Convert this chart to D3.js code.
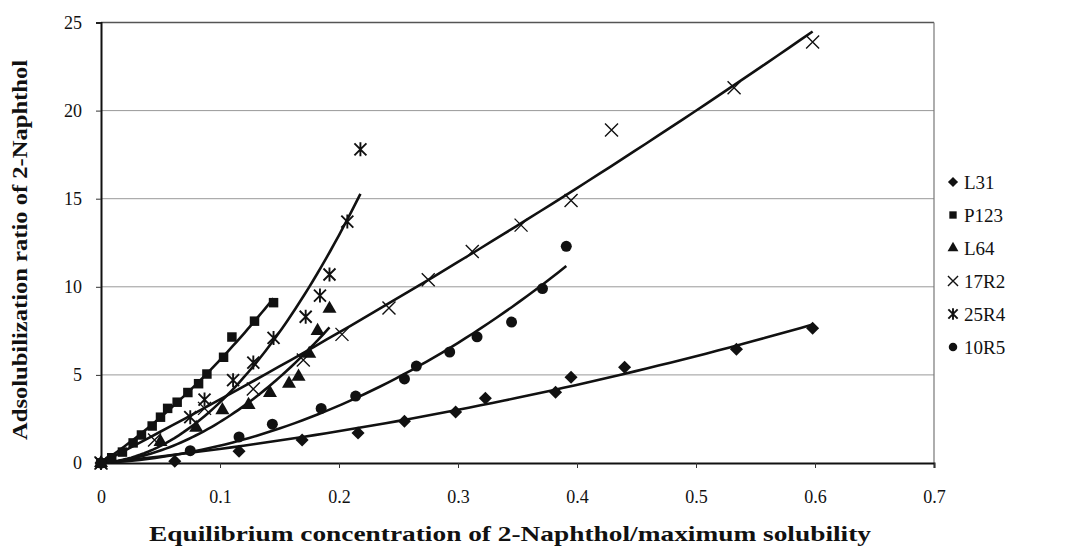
<!DOCTYPE html>
<html><head><meta charset="utf-8">
<script src="https://cdn.jsdelivr.net/npm/d3@7"></script>
<style>
html,body{margin:0;padding:0;background:#fff;}
svg{display:block;}
text{font-family:"Liberation Serif","DejaVu Serif Condensed",serif;fill:#111;}
</style></head>
<body><svg id="chart" width="1065" height="556"></svg>
<script>
const seriesNames = ["L31","P123","L64","17R2","25R4","10R5"];
const L31 = [[0,0],[0.062,0.1],[0.116,0.67],[0.169,1.3],[0.216,1.7],[0.255,2.37],[0.298,2.9],[0.323,3.68],[0.382,4.02],[0.395,4.87],[0.44,5.44],[0.534,6.46],[0.598,7.65]];
const P123 = [[0,0],[0.009,0.3],[0.018,0.62],[0.027,1.14],[0.034,1.59],[0.043,2.1],[0.05,2.6],[0.056,3.1],[0.064,3.45],[0.073,4.0],[0.082,4.5],[0.089,5.05],[0.103,6.0],[0.11,7.15],[0.129,8.05],[0.145,9.1]];
const L64 = [[0,0],[0.05,1.2],[0.08,2.0],[0.102,3.0],[0.124,3.3],[0.142,3.98],[0.158,4.5],[0.166,4.9],[0.175,6.2],[0.182,7.5],[0.192,8.75]];
const R17R2 = [[0,0],[0.045,1.3],[0.087,3.1],[0.128,4.2],[0.17,5.85],[0.2025,7.3],[0.242,8.8],[0.275,10.4],[0.312,12.0],[0.353,13.5],[0.395,14.9],[0.429,18.9],[0.532,21.3],[0.598,23.9]];
const R25R4 = [[0,0],[0.075,2.6],[0.087,3.6],[0.111,4.7],[0.128,5.7],[0.145,7.1],[0.172,8.3],[0.184,9.5],[0.192,10.7],[0.207,13.7],[0.218,17.8]];
const R10R5 = [[0,0],[0.075,0.7],[0.116,1.48],[0.144,2.2],[0.185,3.1],[0.214,3.8],[0.255,4.77],[0.265,5.5],[0.293,6.3],[0.316,7.16],[0.345,8.0],[0.371,9.9],[0.391,12.3]];
const xTicks = [0,0.1,0.2,0.3,0.4,0.5,0.6,0.7];
const yTicks = [0,5,10,15,20,25];
const xTitle = "Equilibrium concentration of 2-Naphthol/maximum solubility";
const yTitle = "Adsolubilization ratio of 2-Naphthol";

const allSeries = [L31,P123,L64,R17R2,R25R4,R10R5];
const markers = ["diamond","square","triangle","cross","asterisk","circle"];

const svg = d3.select("#chart");
const x = d3.scaleLinear().domain([0,0.7]).range([101,934]);
const y = d3.scaleLinear().domain([0,25]).range([463,22.5]);

// gridlines
svg.append("g").selectAll("line").data(yTicks.filter(v=>v>0)).join("line")
  .attr("x1",x(0)).attr("x2",x(0.7)).attr("y1",d=>y(d)).attr("y2",d=>y(d))
  .attr("stroke",d=>d===25?"#555":"#999").attr("stroke-width",d=>d===25?1.5:1);
svg.append("line").attr("x1",x(0.7)).attr("x2",x(0.7)).attr("y1",y(0)).attr("y2",y(25))
  .attr("stroke","#777").attr("stroke-width",1.2);

// axes
const xAxis = svg.append("g").attr("transform",`translate(0,${y(0)})`)
  .call(d3.axisBottom(x).tickValues(xTicks).tickFormat(d=>d===0?"0":d3.format(".1f")(d)).tickSize(5).tickPadding(22));
xAxis.select(".domain").attr("stroke","#111").attr("stroke-width",2);
xAxis.selectAll(".tick line").attr("stroke","#333");
xAxis.selectAll("text").attr("font-size",18).attr("fill","#111");

const yAxis = svg.append("g").attr("transform",`translate(${x(0)},0)`)
  .call(d3.axisLeft(y).tickValues(yTicks).tickSize(5).tickPadding(14));
yAxis.select(".domain").attr("stroke","#111").attr("stroke-width",2);
yAxis.selectAll(".tick line").attr("stroke","#333");
yAxis.selectAll("text").attr("font-size",18).attr("fill","#111");

// quadratic least-squares trend lines through the origin: y = b x + c x^2
function polyfit0(pts){
  let s2=0,s3=0,s4=0,t1=0,t2=0;
  pts.forEach(([a,v])=>{ s2+=a*a; s3+=a*a*a; s4+=a*a*a*a; t1+=a*v; t2+=a*a*v; });
  const det = s2*s4 - s3*s3;
  return [(t1*s4 - s3*t2)/det, (s2*t2 - s3*t1)/det];
}
const line = d3.line().x(d=>x(d[0])).y(d=>y(d[1]));
allSeries.forEach(s=>{
  const c = polyfit0(s);
  const xmax = d3.max(s,d=>d[0]);
  const pts = d3.range(0,61).map(i=>{const xv=xmax*i/60; return [xv, c[0]*xv+c[1]*xv*xv];});
  svg.append("path").attr("d",line(pts)).attr("fill","none").attr("stroke","#111").attr("stroke-width",2.6);
});

function drawMarker(g, type, cx, cy, scale){
  scale = scale||1;
  if(type==="diamond"){
    g.append("path").attr("d",d3.symbol(d3.symbolSquare,85*scale)()).attr("transform",`translate(${cx},${cy}) rotate(45)`).attr("fill","#111");
  } else if(type==="square"){
    g.append("path").attr("d",d3.symbol(d3.symbolSquare,90*scale)()).attr("transform",`translate(${cx},${cy})`).attr("fill","#111");
  } else if(type==="triangle"){
    g.append("path").attr("d",d3.symbol(d3.symbolTriangle,85*scale)()).attr("transform",`translate(${cx},${cy})`).attr("fill","#111");
  } else if(type==="circle"){
    g.append("path").attr("d",d3.symbol(d3.symbolCircle,95*scale)()).attr("transform",`translate(${cx},${cy})`).attr("fill","#111");
  } else if(type==="cross"){
    const r=6.5*Math.sqrt(scale);
    g.append("path").attr("d",`M${cx-r},${cy-r}L${cx+r},${cy+r}M${cx-r},${cy+r}L${cx+r},${cy-r}`).attr("stroke","#111").attr("stroke-width",1.4).attr("fill","none");
  } else if(type==="asterisk"){
    const r=6*Math.sqrt(scale);
    g.append("path").attr("d",`M${cx-r},${cy-r}L${cx+r},${cy+r}M${cx-r},${cy+r}L${cx+r},${cy-r}M${cx},${cy-r-1}L${cx},${cy+r+1}`).attr("stroke","#111").attr("stroke-width",1.9).attr("fill","none");
  }
}
allSeries.forEach((s,i)=>{
  const g = svg.append("g");
  s.forEach(d=>drawMarker(g, markers[i], x(d[0]), y(d[1]), 1));
});

// legend
const lg = svg.append("g");
seriesNames.forEach((n,i)=>{
  const ly = 182 + i*33;
  drawMarker(lg, markers[i], 953, ly, 0.6);
  lg.append("text").attr("x",964).attr("y",ly).attr("dy","0.35em").attr("font-size",19).text(n);
});

// titles
svg.append("text").attr("x",510).attr("y",541).attr("text-anchor","middle")
  .attr("font-size",22).attr("font-weight","bold").attr("textLength",722).attr("lengthAdjust","spacingAndGlyphs").text(xTitle);
svg.append("text").attr("transform","translate(27,250) rotate(-90)").attr("text-anchor","middle")
  .attr("font-size",20).attr("font-weight","bold").attr("textLength",380).attr("lengthAdjust","spacingAndGlyphs").text(yTitle);
</script></body></html>
